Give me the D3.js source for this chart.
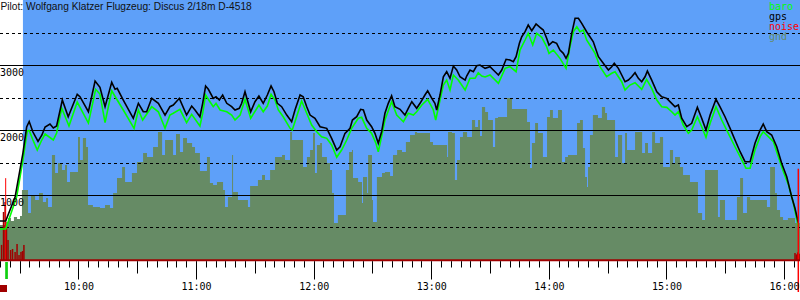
<!DOCTYPE html>
<html><head><meta charset="utf-8">
<script src="https://cdn.jsdelivr.net/npm/d3@7/dist/d3.min.js"></script>
<style>html,body{margin:0;padding:0;background:#fff;}svg{display:block;}</style>
</head><body>
<svg id="chart" width="800" height="300"></svg>
<script>
// ---------- data ----------
const titleText = "Pilot: Wolfgang Klatzer Flugzeug: Discus 2/18m D-4518";
const legendNames = ["baro", "gps", "noise", "gnd"];
const solidGrid = [1000, 2000, 3000];
const dashedGrid = [500, 1500, 2500, 3500];
const yLabels = [1000, 2000, 3000];
const hourTicks = [600, 660, 720, 780, 840, 900, 960];           // minutes since midnight
const hourLabels = ["10:00", "11:00", "12:00", "13:00", "14:00", "15:00", "16:00"];
const timeDomain = [559.7, 967.86];                                // 9:19:42 .. 16:07:52
const flightStart = 571.4;                                         // start of blue (in flight)
const takeoffTime = 562.6;
const landingTime = 967.0;
const takeoffNoise = 1266;
const landingNoise = 1412;

// [time (min since midnight), altitude m]
const gps = [[559.7,605],[562.6,605],[567.4,975],[571.4,1654],[573.3,2055],[574.6,2140],[576.5,1978],[579.1,1832],[581.1,1932],[582.7,2055],[585.2,2102],[586.9,2040],[588.6,2071],[591.5,2472],[594.5,2214],[599.1,2560],[600.5,2523],[604.8,2291],[608.2,2765],[610.7,2668],[613.3,2369],[616.7,2745],[618.4,2637],[619.5,2652],[622.6,2472],[627.7,2190],[630.3,2421],[632.8,2291],[634.5,2291],[637.1,2498],[640.5,2421],[643.9,2240],[646.4,2369],[648.1,2395],[651.2,2498],[654.9,2240],[657.5,2379],[659.2,2318],[661.7,2214],[663.1,2421],[664.6,2688],[666.0,2637],[668.5,2498],[669.9,2523],[671.6,2472],[673.3,2549],[675.4,2421],[677.9,2369],[679.6,2318],[681.8,2344],[683.0,2421],[684.7,2600],[685.9,2472],[687.6,2291],[689.8,2446],[691.8,2534],[694.0,2421],[696.1,2549],[698.0,2688],[699.5,2600],[701.2,2421],[703.4,2369],[706.0,2240],[708.5,2137],[710.2,2318],[712.8,2549],[714.4,2523],[716.2,2369],[717.9,2240],[720.4,2190],[723.0,2060],[726.4,2035],[728.9,1881],[731.5,1700],[733.2,1751],[735.7,1958],[738.3,2035],[739.5,2163],[741.7,2214],[743.7,2328],[745.1,2318],[746.8,2163],[749.3,2060],[751.0,1958],[752.7,1804],[754.4,1983],[756.1,2267],[757.8,2421],[759.5,2538],[761.2,2369],[763.8,2328],[766.3,2240],[768.0,2344],[769.8,2446],[772.3,2344],[774.0,2421],[776.5,2549],[777.9,2615],[780.0,2498],[781.6,2421],[782.5,2318],[784.2,2549],[785.9,2831],[787.6,2909],[789.3,2807],[791.0,2996],[792.7,2935],[794.4,2831],[797.0,2780],[797.8,2842],[799.5,2935],[801.2,2909],[802.9,3001],[804.6,3012],[807.2,2961],[809.7,2986],[811.4,2935],[814.0,2858],[815.7,2935],[817.9,3100],[819.9,3089],[821.6,3063],[823.0,3140],[824.7,3347],[825.9,3449],[827.6,3526],[829.2,3629],[831.0,3541],[833.2,3645],[835.2,3594],[836.9,3552],[838.6,3424],[839.8,3321],[841.7,3371],[843.7,3347],[845.4,3243],[847.1,3192],[848.5,3115],[849.7,3192],[851.4,3501],[853.1,3733],[854.8,3733],[856.5,3655],[859.0,3526],[862.4,3371],[865.0,3140],[867.5,3038],[870.1,2935],[871.8,2986],[873.1,3038],[875.2,2961],[876.9,2858],[878.6,2754],[880.3,2780],[882.0,2831],[883.7,2893],[885.4,2807],[887.1,2754],[888.8,2831],[890.0,2919],[892.2,2780],[894.8,2600],[897.3,2523],[899.9,2498],[902.4,2421],[904.1,2369],[905.8,2395],[907.5,2190],[910.1,2060],[912.6,2112],[915.5,2359],[917.7,2190],[919.9,2009],[922.0,2240],[925.0,2483],[927.0,2369],[929.6,2214],[932.2,2035],[934.7,1855],[937.3,1674],[939.8,1520],[942.4,1520],[944.9,1804],[947.5,2009],[949.1,2102],[950.9,1983],[953.4,1932],[956.0,1751],[958.5,1495],[961.1,1288],[963.6,980],[965.3,801],[967.0,579]];

const baro = [[559.7,481],[562.6,481],[568.2,980],[571.4,1546],[573.6,1994],[574.6,2001],[576.5,1855],[578.7,1700],[581.0,1855],[582.7,1947],[586.9,1855],[588.6,1963],[591.2,2344],[594.9,2071],[599.1,2441],[604.8,2117],[608.5,2637],[610.7,2564],[613.3,2122],[616.7,2615],[619.5,2472],[622.6,2318],[628.1,2035],[630.3,2318],[632.5,2163],[637.1,2369],[640.5,2291],[643.9,2035],[646.4,2240],[648.1,2267],[651.5,2328],[654.9,2122],[657.5,2251],[661.7,2071],[663.1,2267],[664.6,2549],[666.8,2446],[668.5,2369],[669.9,2421],[672.0,2318],[675.4,2291],[677.9,2240],[679.6,2163],[682.2,2240],[684.7,2483],[687.6,2190],[691.8,2395],[694.0,2291],[696.1,2379],[698.0,2560],[700.0,2472],[701.7,2318],[704.2,2214],[707.7,2035],[708.8,2009],[710.2,2137],[713.6,2456],[716.2,2267],[718.7,2086],[721.3,1983],[723.8,1906],[726.4,1881],[728.9,1778],[731.5,1588],[734.0,1700],[736.6,1855],[739.1,2035],[742.5,2190],[744.2,2205],[746.8,2035],[749.3,1958],[751.5,1804],[752.7,1674],[754.4,1906],[756.1,2163],[759.5,2446],[762.1,2240],[765.5,2137],[768.0,2267],[770.6,2240],[772.3,2291],[774.9,2395],[777.9,2483],[780.8,2318],[782.0,2163],[784.2,2472],[785.9,2703],[787.6,2780],[789.3,2626],[791.0,2858],[793.5,2780],[797.0,2626],[799.5,2807],[802.1,2807],[803.7,2893],[805.5,2842],[807.2,2827],[809.7,2858],[814.0,2730],[817.4,2961],[819.9,2986],[823.0,2909],[825.0,3243],[827.6,3398],[829.2,3501],[831.5,3321],[833.5,3501],[836.1,3439],[838.6,3294],[839.8,3192],[842.0,3243],[845.4,3115],[848.5,2961],[850.5,3294],[852.2,3526],[854.0,3603],[855.6,3526],[857.3,3552],[859.0,3398],[863.3,3192],[865.8,2986],[869.2,2831],[871.8,2884],[873.5,2909],[876.9,2754],[878.6,2626],[881.1,2703],[883.7,2739],[887.1,2637],[889.6,2791],[892.2,2652],[894.8,2472],[897.3,2369],[899.9,2359],[902.4,2291],[904.1,2240],[905.8,2291],[908.3,2086],[910.9,1958],[912.6,2009],[915.5,2214],[917.7,2060],[919.9,1896],[922.0,2112],[925.0,2369],[927.9,2163],[931.3,1958],[934.7,1751],[937.3,1597],[940.3,1418],[942.4,1418],[944.9,1700],[947.5,1906],[949.1,1983],[951.7,1906],[954.3,1828],[956.8,1597],[959.4,1366],[962.0,1160],[964.5,878],[967.0,517]];

const gnd = [[559.7,543],[562.3,589],[563.8,651],[565.3,605],[566.8,667],[568.4,636],[569.9,682],[570.9,1083],[574.0,728],[575.5,991],[577.6,929],[579.6,1037],[581.6,898],[583.2,960],[584.2,821],[586.2,1623],[587.8,1345],[589.3,1500],[591.3,1392],[592.9,1469],[593.9,1207],[595.4,1361],[599.5,1901],[600.5,1546],[602.0,1886],[603.6,1747],[604.6,852],[607.1,821],[610.7,805],[613.3,852],[615.8,805],[617.4,1037],[619.4,1268],[622.0,1438],[623.5,1207],[627.0,1345],[629.6,1515],[632.7,1654],[634.7,1592],[637.8,1747],[640.3,1978],[642.4,1623],[643.9,1855],[648.0,1623],[649.5,1947],[651.5,1670],[653.1,1886],[655.1,1808],[657.7,1747],[659.2,1654],[661.7,1376],[665.3,1592],[666.8,1191],[668.4,1160],[670.4,1207],[673.5,1083],[674.5,821],[676.0,975],[678.1,1623],[678.6,1052],[681.1,929],[686.2,821],[687.3,1145],[691.3,1237],[693.4,1315],[694.9,1237],[697.5,1392],[700.0,1592],[703.6,1623],[705.1,1546],[707.7,1978],[708.7,1855],[714.3,1438],[716.3,1592],[717.9,1700],[719.4,1962],[720.4,1345],[721.4,1777],[723.0,1808],[724.0,1592],[726.5,1500],[728.1,1392],[729.1,1037],[730.1,574],[732.1,697],[736.2,1392],[737.8,1670],[739.3,1700],[739.8,1268],[742.4,1207],[744.4,883],[744.9,1284],[747.0,1037],[747.5,1623],[749.5,929],[750.0,589],[752.0,1284],[754.6,1345],[756.1,1361],[758.7,1299],[760.2,1623],[762.3,1700],[764.8,1670],[766.8,1824],[768.9,1932],[771.4,1978],[772.5,1962],[779.1,1824],[780.6,1777],[787.8,1592],[788.3,1978],[790.3,1962],[791.8,1237],[792.9,1546],[794.4,1901],[795.9,1978],[798.0,1901],[800.5,2163],[802.1,2055],[803.6,2163],[804.6,1916],[805.6,2364],[807.2,2287],[808.7,2163],[811.2,1747],[812.3,2194],[813.8,2210],[818.4,2503],[820.9,2333],[828.6,2132],[830.1,1423],[831.1,1808],[832.7,2117],[834.2,1963],[836.7,1592],[838.8,2210],[840.3,2318],[841.8,2194],[844.4,2318],[846.4,1515],[848.0,1592],[849.5,1623],[854.1,2117],[855.6,2163],[857.1,1731],[858.2,1284],[859.2,1129],[859.7,1438],[860.7,1932],[862.2,2240],[864.8,2194],[866.8,2364],[868.4,2271],[869.4,2163],[873.5,1592],[875.0,1932],[877.1,1500],[878.6,1962],[879.6,1700],[883.7,1978],[887.3,1654],[888.8,1808],[890.3,1654],[892.4,1978],[893.9,1808],[896.4,1901],[898.0,1438],[901.5,1700],[903.1,1500],[904.1,1592],[906.6,1438],[908.2,1315],[911.7,1207],[915.8,728],[917.9,620],[919.4,1392],[926.0,667],[927.0,929],[929.6,620],[935.7,975],[937.3,1268],[938.8,728],[940.8,975],[942.4,929],[951.0,821],[952.6,1438],[955.1,1037],[956.1,775],[957.7,667],[959.2,620],[961.7,651],[965.3,574],[967.9,574]];

// engine noise bars [time, value on altitude scale]
const noise = [[560.5,236],[561.5,744],[562.3,898],[563.0,528],[563.8,312],[565.1,157],[566.1,173],[567.4,127],[568.4,250],[569.4,80],[570.4,127],[571.2,142],[571.9,235],[965.3,111],[966.0,90],[966.7,120],[967.4,100]];

// ---------- drawing ----------
const W = 800, H = 300;
const svg = d3.select("#chart");
const x = d3.scaleLinear().domain(timeDomain).range([0, W]);
const y = d3.scaleLinear().domain([0, 4000]).range([260.2, 1]);
const colors = { baro: "#00ff00", gps: "#000000", noise: "#ff0000", gnd: "#668b65" };
const mono = "'DejaVu Sans Mono', monospace";

// in-flight background
svg.append("rect")
  .attr("x", x(flightStart)).attr("y", 0)
  .attr("width", W - x(flightStart)).attr("height", y(0))
  .attr("fill", "#5ea0f9");

// ground profile
const gArea = d3.area().curve(d3.curveStepAfter)
  .x(d => x(d[0])).y0(y(0)).y1(d => y(d[1]));
svg.append("path").datum(gnd).attr("d", gArea).attr("fill", colors.gnd);

// grid lines
const crisp = v => Math.round(v) + 0.5;
svg.append("g").selectAll("line").data(solidGrid).join("line")
  .attr("x1", 0).attr("x2", W)
  .attr("y1", d => crisp(y(d) - 0.5)).attr("y2", d => crisp(y(d) - 0.5))
  .attr("stroke", "#000").attr("stroke-width", 1);
svg.append("g").selectAll("line").data(dashedGrid).join("line")
  .attr("x1", 0).attr("x2", W)
  .attr("y1", d => crisp(y(d) - 0.5)).attr("y2", d => crisp(y(d) - 0.5))
  .attr("stroke", "#000").attr("stroke-width", 1).attr("stroke-dasharray", "3,3");

// noise bars
svg.append("g").selectAll("rect").data(noise).join("rect")
  .attr("x", d => x(d[0]) - 0.75).attr("width", 1.5)
  .attr("y", d => y(d[1])).attr("height", d => y(0) - y(d[1]))
  .attr("fill", "#a00000");

// takeoff / landing markers
svg.append("line")
  .attr("x1", x(takeoffTime)).attr("x2", x(takeoffTime))
  .attr("y1", y(takeoffNoise)).attr("y2", y(0))
  .attr("stroke", colors.noise).attr("stroke-width", 1);
svg.append("rect")
  .attr("x", x(takeoffTime) - 0.5).attr("y", 262)
  .attr("width", 2.7).attr("height", 17).attr("fill", "#10d010");
svg.append("rect")
  .attr("x", 0).attr("y", 285).attr("width", 7).attr("height", 7).attr("fill", "#a00000");

// altitude lines
const line = d3.line().x(d => x(d[0])).y(d => y(d[1]));
svg.append("path").datum(baro).attr("d", line)
  .attr("fill", "none").attr("stroke", colors.baro).attr("stroke-width", 1.6)
  .attr("stroke-linejoin", "miter");
svg.append("path").datum(gps).attr("d", line)
  .attr("fill", "none").attr("stroke", colors.gps).attr("stroke-width", 1.6)
  .attr("stroke-linejoin", "miter");

svg.append("line")
  .attr("x1", x(landingTime)).attr("x2", x(landingTime))
  .attr("y1", y(landingNoise)).attr("y2", 292)
  .attr("stroke", colors.noise).attr("stroke-width", 1.5);

// x axis line
svg.append("line").attr("x1", 0).attr("x2", W)
  .attr("y1", y(0)).attr("y2", y(0))
  .attr("stroke", "#a00000").attr("stroke-width", 2);

// ticks every 5 minutes
const tickTimes = d3.range(560, timeDomain[1], 5);
svg.append("g").selectAll("line").data(tickTimes).join("line")
  .attr("x1", d => crisp(x(d) - 0.5)).attr("x2", d => crisp(x(d) - 0.5))
  .attr("y1", 261.2)
  .attr("y2", d => d % 60 === 0 ? 279.5 : (d % 30 === 0 ? 273.5 : 267.5))
  .attr("stroke", "#000").attr("stroke-width", 1);

// hour labels
svg.append("g").selectAll("text").data(hourTicks).join("text")
  .attr("x", d => x(d)).attr("y", 289.5)
  .attr("text-anchor", "middle")
  .attr("font-family", mono).attr("font-size", 10).attr("fill", "#000")
  .text((d, i) => hourLabels[i]);

// y labels
svg.append("g").selectAll("text").data(yLabels).join("text")
  .attr("x", 0).attr("y", d => y(d) + 10.4)
  .attr("font-family", mono).attr("font-size", 10).attr("fill", "#000")
  .text(d => d);

// title
svg.append("text").attr("x", 0.5).attr("y", 10)
  .attr("font-family", "'Liberation Sans', Arial, sans-serif").attr("font-size", 10.2)
  .attr("fill", "#111").text(titleText);

// legend
svg.append("g").selectAll("text").data(legendNames).join("text")
  .attr("x", 769).attr("y", (d, i) => 10 + i * 10)
  .attr("font-family", mono).attr("font-size", 10)
  .attr("fill", d => colors[d]).text(d => d);
</script>
</body></html>
